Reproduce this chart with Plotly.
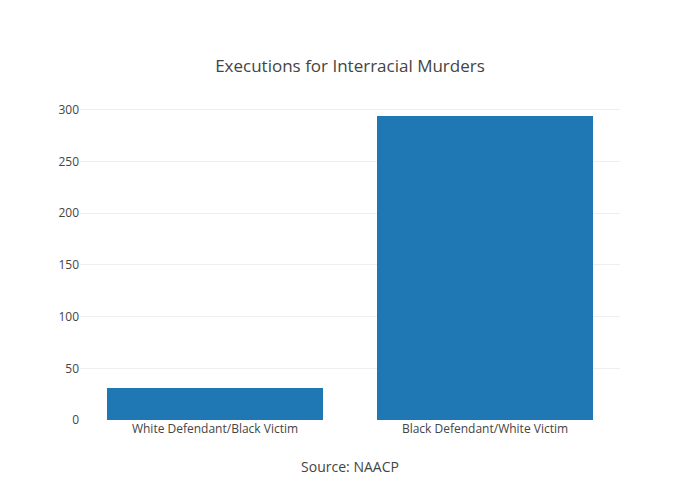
import plotly.graph_objects as go

categories = ["White Defendant/Black Victim", "Black Defendant/White Victim"]
executions = [31, 294]

fig = go.Figure(go.Bar(x=categories, y=executions, marker_color="#1f77b4"))
fig.update_layout(
    template="none",
    width=700, height=500,
    margin=dict(l=80, r=80, t=100, b=80),
    font=dict(family="Open Sans", size=12, color="#444"),
    title=dict(text="Executions for Interracial Murders", x=0.5, xanchor="center",
               y=1 - 66 / 500, yanchor="middle", yref="container", font=dict(size=17)),
    plot_bgcolor="white", paper_bgcolor="white",
    bargap=0.2,
    xaxis=dict(title=dict(text="Source: NAACP", font=dict(size=14)), showgrid=False, zeroline=False,
               showline=False, ticks=""),
    yaxis=dict(showgrid=True, gridcolor="#eee", zeroline=False, showline=False, ticks="",
               autorange=True),
)
fig.write_html("out.html", config={"displayModeBar": False})

with open("out.html", encoding="utf-8") as f:
    html = f.read()
html = html.replace("<body>", '<body style="margin:0">', 1)
with open("out.html", "w", encoding="utf-8") as f:
    f.write(html)
